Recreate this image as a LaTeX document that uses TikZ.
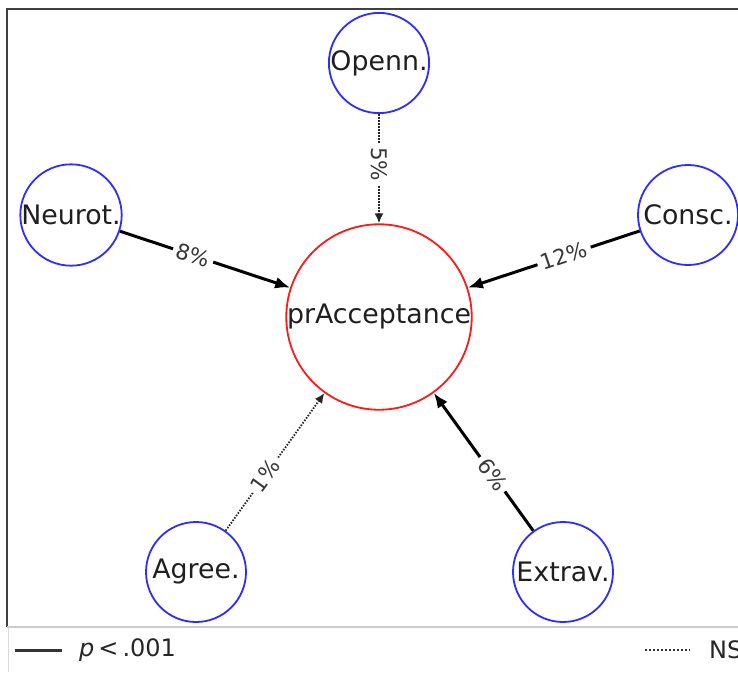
\documentclass[tikz,border=0pt]{standalone}
\usepackage{fontspec}
\setmainfont{DejaVu Sans}
\usetikzlibrary{arrows.meta}
\definecolor{nblue}{RGB}{45,45,255}
\definecolor{nred}{RGB}{255,25,25}
\definecolor{lbl}{RGB}{55,55,55}
\tikzset{
  trait/.style={circle, draw=nblue, line width=1.8pt, minimum size=100pt, inner sep=0pt, text=black!88, font=\fontsize{26.8}{26.8}\selectfont},
  outc/.style={circle, draw=nred, line width=1.8pt, minimum size=183pt, inner sep=0pt, text=black!88, font=\fontsize{26.8}{26.8}\selectfont},
  sig/.style={line width=3pt, -{Latex[length=15pt,width=12pt]}},
  ns/.style={line width=1.8pt, black!85, dash pattern=on 1.5pt off 1.5pt, -{Latex[length=10pt,width=9pt]}},
  elab/.style={fill=white, inner sep=4pt, text=lbl, font=\fontsize{21.5}{21.5}\selectfont},
}
\begin{document}
\begin{tikzpicture}[x=1pt,y=-1pt]
\useasboundingbox (0,0) rectangle (738,672);
\fill[white] (0,0) rectangle (738,672);
% frame
\draw[black!75, line width=1.2pt] (7,627) -- (7,9) -- (738,9);
\draw[black!20, line width=1.2pt] (7,627) -- (738,627);
\draw[black!15, line width=1pt] (8,627) -- (8,672);
% nodes
\node[outc] (p) at (379,317) {prAcceptance};
\node[trait] (o) at (379,63) {Openn.};
\node[trait] (n) at (71,215) {Neurot.};
\node[trait] (c) at (688,215) {Consc.};
\node[trait] (a) at (196,572) {Agree.};
\node[trait] (e) at (563,572) {Extrav.};
% edges
\draw[ns] (o) -- (p) node[elab, pos=0.46, rotate=-90] {5\%};
\draw[sig] (n) -- (p) node[elab, pos=0.43, rotate=-18] {8\%};
\draw[sig] (c) -- (p) node[elab, pos=0.44, rotate=18.5] {12\%};
\draw[ns] (a) -- (p) node[elab, pos=0.40, rotate=54] {1\%};
\draw[sig] (e) -- (p) node[elab, pos=0.41, rotate=-54] {6\%};
% legend
\coordinate (l1a) at (15,650);
\coordinate (l1b) at (62,650);
\draw[line width=3pt, black!80] (l1a) -- (l1b);
\node[anchor=west, text=black!85, font=\fontsize{24}{24}\selectfont, inner sep=0pt] (t1) at (79,650) {\textit{p}\,<\,.001};
\coordinate (l2a) at (645,650);
\coordinate (l2b) at (690,650);
\draw[line width=1.8pt, black!80, dash pattern=on 1.5pt off 2.5pt] (l2a) -- (l2b);
\node[anchor=west, text=black!85, font=\fontsize{24}{24}\selectfont, inner sep=0pt] (t2) at (709,650) {NS};
\end{tikzpicture}
\end{document}
